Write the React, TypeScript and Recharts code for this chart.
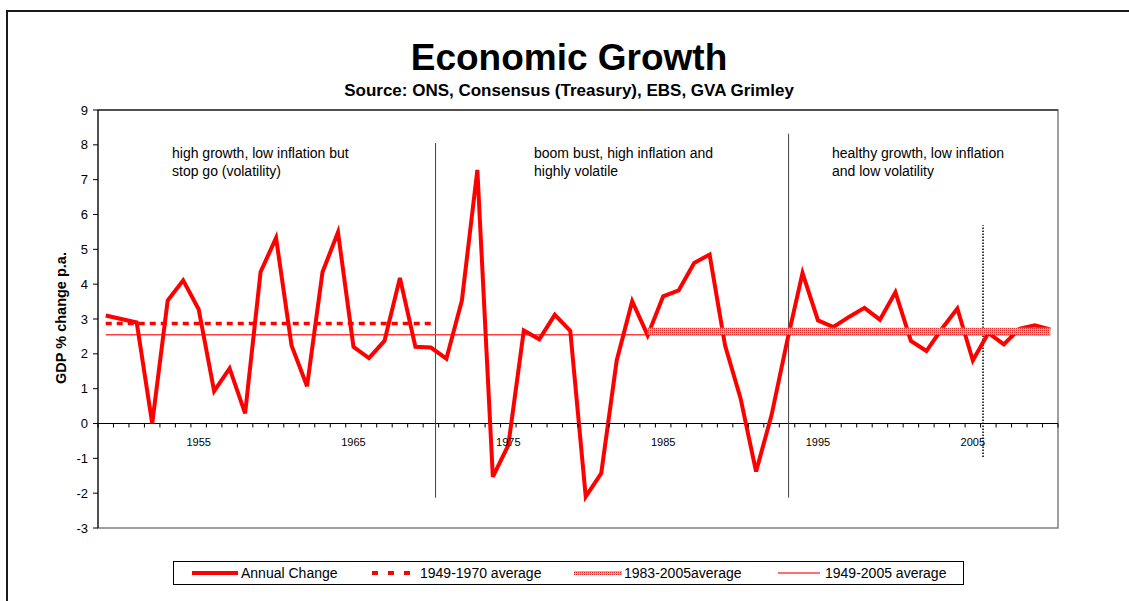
import React from "react";
import { LineChart, Line, XAxis, YAxis, ReferenceLine, ReferenceArea, Legend } from "recharts";

// one category per year, 1949-2010
const years = [
  1949, 1950, 1951, 1952, 1953, 1954, 1955, 1956, 1957, 1958,
  1959, 1960, 1961, 1962, 1963, 1964, 1965, 1966, 1967, 1968,
  1969, 1970, 1971, 1972, 1973, 1974, 1975, 1976, 1977, 1978,
  1979, 1980, 1981, 1982, 1983, 1984, 1985, 1986, 1987, 1988,
  1989, 1990, 1991, 1992, 1993, 1994, 1995, 1996, 1997, 1998,
  1999, 2000, 2001, 2002, 2003, 2004, 2005, 2006, 2007, 2008,
  2009, 2010,
];

const annualChange = [
  3.1, 3.0, 2.9, 0.0, 3.53, 4.11, 3.28, 0.93, 1.58, 0.29,
  4.35, 5.33, 2.24, 1.07, 4.35, 5.49, 2.2, 1.88, 2.37, 4.18,
  2.2, 2.18, 1.86, 3.53, 7.28, -1.53, -0.62, 2.67, 2.42, 3.12,
  2.66, -2.1, -1.43, 1.81, 3.51, 2.53, 3.65, 3.82, 4.61, 4.85,
  2.24, 0.72, -1.38, 0.24, 2.35, 4.32, 2.96, 2.77, 3.06, 3.32,
  2.98, 3.77, 2.37, 2.08, 2.72, 3.3, 1.81, 2.6, 2.27, 2.72,
  2.82, 2.7,
];

// horizontal averages: value drawn over the span of years given
const avg1949to1970 = { from: 1949, to: 1970, value: 2.87 };
const avg1983to2005 = { from: 1984, to: 2010, value: 2.65 };
const avg1949to2005 = { from: 1949, to: 2010, value: 2.55 };

const yTicks = [-3, -2, -1, 0, 1, 2, 3, 4, 5, 6, 7, 8, 9];
const labelYears = [1955, 1965, 1975, 1985, 1995, 2005];

// era dividers drawn on the plot
const dividers = [
  { x: 1970.3, y1: -2.13, y2: 8.05, dotted: false },
  { x: 1993.1, y1: -2.13, y2: 8.32, dotted: false },
  { x: 2005.66, y1: -0.96, y2: 5.69, dotted: true },
];

const notes = [
  { left: 172, lines: ["high growth, low inflation but", "stop go (volatility)"] },
  { left: 534, lines: ["boom bust, high inflation and", "highly volatile"] },
  { left: 832, lines: ["healthy growth, low inflation", "and low volatility"] },
];

const inSpan = (y: number, s: { from: number; to: number; value: number }) =>
  y >= s.from && y <= s.to ? s.value : null;

const data = years.map((year, i) => ({
  year,
  annual: annualChange[i],
  early: inSpan(year, avg1949to1970),
  late: inSpan(year, avg1983to2005),
  all: inSpan(year, avg1949to2005),
}));

const W = 1129;
const H = 601;
const M = { top: 110, right: 71, bottom: 71, left: 38 };
const YW = 60;
const XH = 2;
const Y_MIN = -3;
const Y_MAX = 9;
const plotW = W - M.left - M.right - YW;
const plotH = H - M.top - M.bottom - XH;
const FONT = 'Arial, "Liberation Sans", sans-serif';

function XTick(props: any) {
  const { x, y, payload, index } = props;
  const zeroY = y - (plotH * (0 - Y_MIN)) / (Y_MAX - Y_MIN);
  const half = plotW / years.length / 2;
  return (
    <g>
      <line x1={x - half} x2={x - half} y1={zeroY} y2={zeroY + 4} stroke="#000" />
      {index === years.length - 1 && (
        <line x1={x + half} x2={x + half} y1={zeroY} y2={zeroY + 4} stroke="#000" />
      )}
      {labelYears.includes(payload.value) && (
        <text x={x} y={zeroY + 22} textAnchor="middle" fontSize={11} fill="#000">
          {payload.value}
        </text>
      )}
    </g>
  );
}

const legendItems = [
  { name: "Annual Change", kind: "annual", left: 18, text: 67 },
  { name: "1949-1970 average", kind: "early", left: 196, text: 246 },
  { name: "1983-2005average", kind: "late", left: 400, text: 450 },
  { name: "1949-2005 average", kind: "all", left: 604, text: 651 },
];

function Sample({ kind }: { kind: string }) {
  return (
    <svg width={48} height={10} style={{ display: "block" }}>
      {kind === "annual" && <line x1={0} x2={46} y1={5} y2={5} stroke="#ff0000" strokeWidth={4} />}
      {kind === "early" && (
        <line x1={2} x2={42} y1={5} y2={5} stroke="#ff0000" strokeWidth={4} strokeDasharray="6 10" />
      )}
      {kind === "late" && <line x1={0} x2={48} y1={5} y2={5} stroke="url(#hatchLegend)" strokeWidth={4} />}
      {kind === "all" && <line x1={0} x2={42} y1={5} y2={5} stroke="#ff4040" strokeWidth={1.5} />}
      <defs>
        <pattern id="hatchLegend" width={2} height={2} patternUnits="userSpaceOnUse">
          <rect width={2} height={2} fill="#f7a0a0" />
          <rect width={1} height={1} fill="#e53030" />
        </pattern>
      </defs>
    </svg>
  );
}

function LegendBox() {
  return (
    <div
      style={{
        position: "relative",
        width: 789,
        height: 22,
        border: "1px solid #000",
        background: "#fff",
        fontFamily: FONT,
        fontSize: 14,
        color: "#000",
      }}
    >
      {legendItems.map((it) => (
        <React.Fragment key={it.name}>
          <div style={{ position: "absolute", left: it.left, top: 6 }}>
            <Sample kind={it.kind} />
          </div>
          <div style={{ position: "absolute", left: it.text, top: 2, whiteSpace: "nowrap", lineHeight: "18px" }}>
            {it.name}
          </div>
        </React.Fragment>
      ))}
    </div>
  );
}

export default function App() {
  return (
    <div
      style={{
        position: "absolute",
        left: 0,
        top: 0,
        width: W,
        height: H,
        overflow: "hidden",
        background: "#fff",
        fontFamily: FONT,
      }}
    >
      <div
        style={{
          position: "absolute",
          left: 6,
          top: 10,
          width: 1200,
          height: 700,
          borderLeft: "2px solid #1a1a1a",
          borderTop: "2px solid #1a1a1a",
        }}
      />
      <div style={{ position: "absolute", left: 0, top: 0 }}>
        <LineChart width={W} height={H} data={data} margin={M} style={{ fontFamily: FONT }}>
          <defs>
            <pattern id="hatch" width={2} height={2} patternUnits="userSpaceOnUse">
              <rect width={2} height={2} fill="#f7a0a0" />
              <rect width={1} height={1} fill="#e53030" />
            </pattern>
          </defs>
          <XAxis
            dataKey="year"
            type="number"
            domain={[1948.5, 2010.5]}
            ticks={years}
            interval={0}
            height={XH}
            axisLine={false}
            tickLine={false}
            tickSize={0}
            tickMargin={0}
            tick={<XTick />}
          />
          <YAxis
            domain={[Y_MIN, Y_MAX]}
            ticks={yTicks}
            interval={0}
            width={YW}
            axisLine={{ stroke: "#000" }}
            tickLine={{ stroke: "#000" }}
            tickSize={5}
            tickMargin={5}
            tick={{ fill: "#000", fontSize: 13 }}
          />
          <ReferenceArea x1={1948.5} x2={2010.5} y1={Y_MIN} y2={Y_MAX} fill="none" stroke="#808080" strokeWidth={1.5} />
          <ReferenceLine y={Y_MAX} stroke="#000" />
          <ReferenceLine y={0} stroke="#000" />
          {dividers.map((d) => (
            <ReferenceLine
              key={d.x}
              segment={[
                { x: d.x, y: d.y1 },
                { x: d.x, y: d.y2 },
              ]}
              stroke={d.dotted ? "#000" : "#404040"}
              strokeWidth={d.dotted ? 1.5 : 1}
              strokeDasharray={d.dotted ? "1.5 1.5" : undefined}
            />
          ))}
          <Line dataKey="all" name="1949-2005 average" stroke="#ff4040" strokeWidth={1.5} dot={false} isAnimationActive={false} />
          <Line dataKey="annual" name="Annual Change" stroke="#ff0000" strokeWidth={4} dot={false} isAnimationActive={false} />
          <Line
            dataKey="early"
            name="1949-1970 average"
            stroke="#ff0000"
            strokeWidth={3.5}
            strokeDasharray="6 5"
            dot={false}
            isAnimationActive={false}
          />
          <Line dataKey="late" name="1983-2005average" stroke="url(#hatch)" strokeWidth={7} dot={false} isAnimationActive={false} />
          <Legend
            layout="vertical"
            align="center"
            verticalAlign="middle"
            content={<LegendBox />}
            wrapperStyle={{ left: 173, top: 561, width: 791, height: 24 }}
          />
        </LineChart>
      </div>
      <div
        style={{
          position: "absolute",
          left: 0,
          width: 1138,
          top: 37,
          textAlign: "center",
          fontSize: 37,
          fontWeight: "bold",
          lineHeight: "42px",
        }}
      >
        Economic Growth
      </div>
      <div
        style={{
          position: "absolute",
          left: 0,
          width: 1138,
          top: 81,
          textAlign: "center",
          fontSize: 17,
          fontWeight: "bold",
          lineHeight: "20px",
        }}
      >
        Source: ONS, Consensus (Treasury), EBS, GVA Grimley
      </div>
      {notes.map((n) => (
        <div
          key={n.left}
          style={{ position: "absolute", left: n.left, top: 144, fontSize: 14, lineHeight: "18px", whiteSpace: "nowrap" }}
        >
          {n.lines.map((l) => (
            <div key={l}>{l}</div>
          ))}
        </div>
      ))}
      <div
        style={{
          position: "absolute",
          left: 61,
          top: 318,
          transform: "translate(-50%, -50%) rotate(-90deg)",
          fontSize: 14.5,
          fontWeight: "bold",
          whiteSpace: "nowrap",
        }}
      >
        GDP % change p.a.
      </div>
    </div>
  );
}
